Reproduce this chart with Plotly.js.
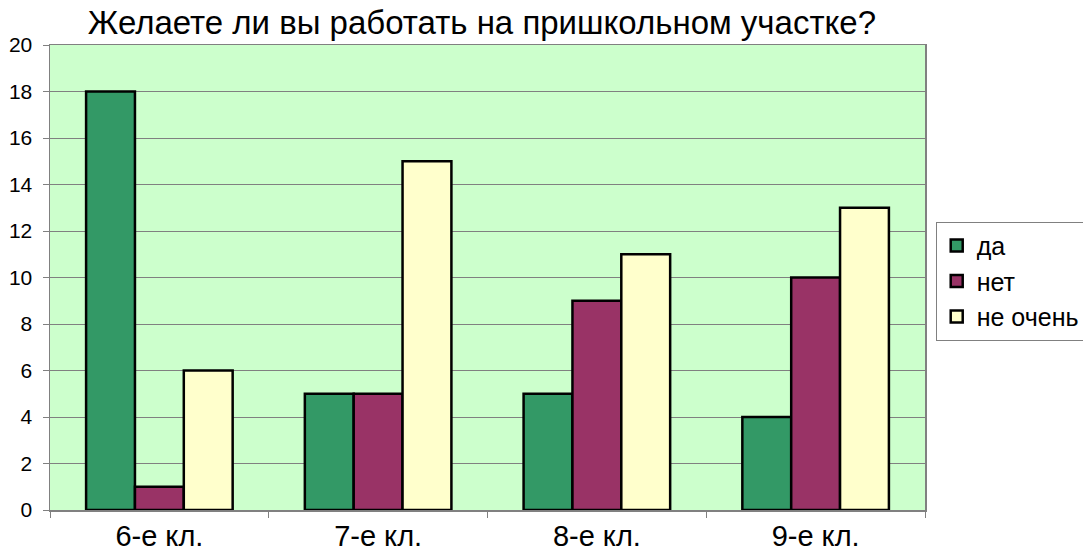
<!DOCTYPE html>
<html>
<head>
<meta charset="utf-8">
<script src="https://cdn.plot.ly/plotly-3.0.1.min.js"></script>
<style>html,body{margin:0;padding:0;background:#fff;}#chart{width:1083px;height:554px;}</style>
</head>
<body>
<div id="chart"></div>
<script>
const categories = ["6-е кл.", "7-е кл.", "8-е кл.", "9-е кл."];
const seriesNames = ["да", "нет", "не очень"];
const valuesDa = [18, 5, 5, 4];
const valuesNet = [1, 5, 9, 10];
const valuesNeOchen = [6, 15, 11, 13];
const colors = ["#339966", "#993366", "#FFFFCC"];

const allValues = [valuesDa, valuesNet, valuesNeOchen];
const traces = allValues.map((vals, i) => ({
  type: "bar",
  name: seriesNames[i],
  x: categories,
  y: vals,
  marker: { color: colors[i], line: { color: "#000000", width: 2.5 } },
  hoverinfo: "x+y+name"
}));

const layout = {
  width: 1083,
  height: 554,
  margin: { l: 50, r: 158, t: 45, b: 44 },
  paper_bgcolor: "#ffffff",
  plot_bgcolor: "#CCFFCC",
  font: { family: "Liberation Sans, Arial, sans-serif", color: "#000000" },
  title: {
    text: "Желаете ли вы работать на пришкольном участке?",
    font: { size: 33, color: "#000000" },
    x: 0.445, xanchor: "center", y: 0.96, yanchor: "middle"
  },
  barmode: "group",
  bargap: 0.33,
  bargroupgap: 0,
  xaxis: {
    type: "category",
    showline: true, linecolor: "#808080", linewidth: 1.5, mirror: true,
    ticks: "outside", tickson: "boundaries", ticklen: 6, tickcolor: "#808080",
    tickfont: { size: 29 },
    ticklabelstandoff: 0,
    showgrid: false
  },
  yaxis: {
    range: [0, 20],
    dtick: 2,
    showline: true, linecolor: "#808080", linewidth: 1.5, mirror: true,
    ticks: "outside", ticklen: 6, tickcolor: "#808080",
    gridcolor: "#808080", gridwidth: 1,
    tickfont: { size: 21 },
    ticklabelstandoff: 6,
    zeroline: false
  },
  showlegend: true,
  legend: {
    xref: "container", x: 0.864, xanchor: "left",
    y: 0.62, yanchor: "top",
    bgcolor: "#ffffff", bordercolor: "#808080", borderwidth: 1,
    font: { size: 25 },
    tracegroupgap: 0,
    itemwidth: 30
  }
};

Plotly.newPlot("chart", traces, layout, { displayModeBar: false, staticPlot: true });
</script>
</body>
</html>
